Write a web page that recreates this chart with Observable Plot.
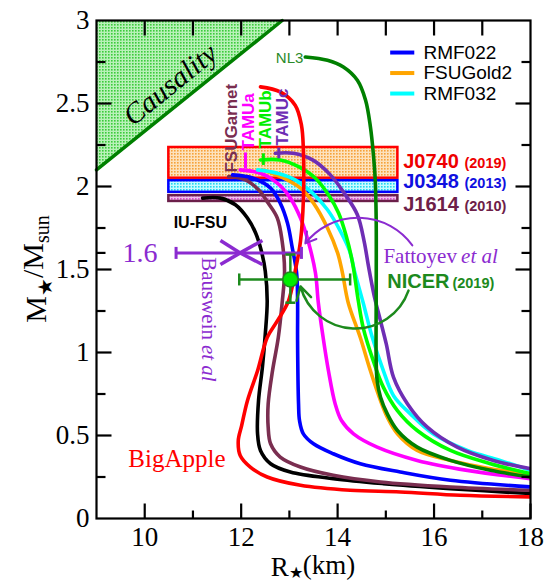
<!DOCTYPE html>
<html><head><meta charset="utf-8">
<script src="https://cdn.jsdelivr.net/npm/d3@7"></script>
<script src="https://cdn.jsdelivr.net/npm/@observablehq/plot@0.6"></script>
<style>body{margin:0;background:#fff}</style>
</head><body><div id="chart"></div>
<script>
// ---- tick values ----
const xMajorTicks = [10, 12, 14, 16, 18];
const xMinorTicks = [11, 13, 15, 17];
const xTopTicks = [10, 11, 12, 13, 14, 15, 16, 17];
const yMajorTicks = [0.5, 1, 1.5, 2, 2.5];
const yMinorTicks = [0.25, 0.75, 1.25, 1.6, 1.75, 2.25, 2.75];
const xTickLabels = [10, 12, 14, 16, 18];
const yTickLabels = [0, 0.5, 1, 1.5, 2, 2.5, 3];

// ---- mass-radius curves [R (km), M/Msun] ----
const iuFsu = [[11.20,1.93],[11.57,1.93],[11.88,1.89],[12.13,1.81],[12.30,1.72],[12.42,1.61],[12.50,1.49],[12.54,1.31],[12.50,1.11],[12.44,0.91],[12.36,0.71],[12.34,0.51],[12.40,0.41],[12.61,0.33],[13.02,0.28],[13.91,0.24],[14.95,0.21],[16.34,0.18],[18.0,0.15]];
const fsuGarnet = [[11.74,2.06],[12.09,2.04],[12.36,1.98],[12.56,1.90],[12.75,1.81],[12.85,1.67],[12.90,1.49],[12.85,1.30],[12.77,1.09],[12.65,0.89],[12.56,0.69],[12.56,0.55],[12.61,0.45],[12.81,0.37],[13.23,0.31],[13.91,0.26],[14.89,0.22],[16.34,0.19],[18.0,0.17]];
const rmf022 = [[11.82,2.07],[12.25,2.05],[12.61,1.99],[12.81,1.90],[12.96,1.78],[13.06,1.63],[13.15,1.48],[13.17,1.31],[13.17,1.07],[13.19,0.69],[13.21,0.59],[13.29,0.51],[13.50,0.45],[13.91,0.39],[14.47,0.33],[15.30,0.28],[16.34,0.23],[18.0,0.19]];
const tamuA = [[11.98,2.10],[12.40,2.08],[12.75,2.02],[13.02,1.93],[13.23,1.81],[13.39,1.67],[13.54,1.48],[13.60,1.30],[13.70,1.09],[13.81,0.89],[13.95,0.69],[14.08,0.59],[14.33,0.51],[14.82,0.43],[15.65,0.35],[16.69,0.29],[18.0,0.24]];
const fsuGold2 = [[12.44,2.10],[12.88,2.05],[13.23,1.99],[13.50,1.90],[13.79,1.75],[14.00,1.60],[14.10,1.48],[14.22,1.30],[14.47,1.09],[14.68,0.89],[14.89,0.71],[15.03,0.61],[15.24,0.51],[15.65,0.41],[16.34,0.35],[17.17,0.30],[18.0,0.27]];
const rmf032 = [[12.34,2.10],[12.75,2.08],[13.12,2.04],[13.48,1.96],[13.79,1.86],[14.06,1.73],[14.25,1.61],[14.35,1.49],[14.53,1.30],[14.72,1.09],[14.95,0.89],[15.16,0.74],[15.51,0.63],[15.98,0.51],[16.69,0.41],[17.37,0.35],[18.0,0.29]];
const tamuB = [[12.40,2.16],[12.81,2.16],[13.19,2.12],[13.54,2.05],[13.81,1.95],[14.02,1.84],[14.18,1.70],[14.31,1.54],[14.43,1.31],[14.53,1.15],[14.74,0.95],[14.95,0.79],[15.24,0.65],[15.65,0.53],[16.34,0.41],[17.17,0.33],[18.0,0.27]];
const tamuC = [[12.71,2.20],[13.08,2.20],[13.48,2.16],[13.85,2.07],[14.16,1.95],[14.41,1.83],[14.55,1.67],[14.64,1.52],[14.76,1.34],[14.89,1.19],[15.01,1.05],[15.16,0.85],[15.45,0.69],[15.86,0.55],[16.48,0.43],[17.23,0.35],[18.0,0.30]];
const nl3 = [[13.33,2.78],[13.79,2.76],[14.12,2.72],[14.41,2.64],[14.58,2.52],[14.68,2.36],[14.74,2.20],[14.78,2.04],[14.80,1.80],[14.80,1.31],[14.80,0.95],[14.82,0.83],[14.89,0.73],[15.03,0.63],[15.24,0.53],[15.65,0.43],[16.34,0.35],[17.17,0.29],[18.0,0.25]];
const bigApple = [[12.40,2.60],[12.81,2.57],[13.12,2.49],[13.25,2.37],[13.29,2.22],[13.29,1.92],[13.23,1.67],[13.12,1.49],[12.98,1.31],[12.75,1.19],[12.54,1.09],[12.34,0.89],[12.13,0.71],[12.01,0.56],[11.94,0.47],[11.98,0.38],[12.19,0.31],[12.54,0.25],[13.23,0.20],[14.26,0.17],[15.30,0.16],[16.54,0.14],[18.0,0.13]];

const curveNames = ["IU-FSU","FSUGarnet","RMF022","TAMUa","FSUGold2","RMF032","TAMUb","TAMUc","NL3","BigApple"];
const curveColors = ["#000000","#7a2e50","#0000ff","#ff00ff","#ffa500","#00ffff","#00ff00","#6e2eb4","#008000","#ff0000"];
const curvePoints = [iuFsu, fsuGarnet, rmf022, tamuA, fsuGold2, rmf032, tamuB, tamuC, nl3, bigApple];

// ---- pulsar mass bands ----
const bandNames = ["J0740","J0348","J1614"];
const bandYears = ["(2019)","(2013)","(2010)"];
const bandLow = [2.05, 1.965, 1.91];
const bandHigh = [2.235, 2.035, 1.945];
const bandRmin = 10.5, bandRmax = 15.25;

// ---- causality limit line ----
const causalR = [9, 12.85];
const causalM = [2.10, 3.0];

// ---- constraints ----
const bauswein = {R: 11.98, Rlo: 10.65, Rhi: 13.25, M: 1.6};
const nicer = {R: 13.02, Rlo: 11.96, Rhi: 14.26, M: 1.44, Mlo: 1.30, Mhi: 1.59};

// ---- legend ----
const legendNames = ["RMF022","FSUGold2","RMF032"];
const legendColors = ["#0000ff","#ffa500","#00ffff"];

// build tables
const curves = curveNames.map((name, i) => ({name, color: curveColors[i], pts: curvePoints[i].map(([R, M]) => ({R, M}))}));
const bands = bandNames.map((name, i) => ({name, year: bandYears[i], lo: bandLow[i], hi: bandHigh[i]}));
const causal = causalR.map((R, i) => ({R, M: causalM[i]}));
const legend = legendNames.map((name, i) => ({name, color: legendColors[i], M: 2.807 - i * 0.1235}));

const PURPLE = "#8b2bd0";
const NGREEN = "#1d8a1d";
const SANS = "Liberation Sans";

const vbar = {draw(ctx, size) { const r = Math.sqrt(size / Math.PI); ctx.moveTo(0, -r); ctx.lineTo(0, r); }};
const hbar = {draw(ctx, size) { const r = Math.sqrt(size / Math.PI); ctx.moveTo(-r, 0); ctx.lineTo(r, 0); }};

const rotLabels = [
  {t: "FSUGarnet", R: 11.92, M: 2.084, c: "#7a2e50"},
  {t: "TAMUa", R: 12.26, M: 2.217, c: "#ff00ff"},
  {t: "TAMUb", R: 12.62, M: 2.229, c: "#00ee00"},
  {t: "TAMUc", R: 12.97, M: 2.245, c: "#6e2eb4"}
];
const labelBars = [
  {R: 12.09, lo: 2.108, hi: 2.205, c: "#ff00ff"},
  {R: 12.46, lo: 2.13, hi: 2.20, c: "#00ee00"},
  {R: 12.78, lo: 2.17, hi: 2.235, c: "#6e2eb4"}
];

const W = 553, H = 582, ML = 96, MR = 23, MT = 20, MB = 64;
const X0 = 9, X1 = 18, Y0 = 0, Y1 = 3;
const ux = (X1 - X0) / (W - ML - MR), uy = (Y1 - Y0) / (H - MT - MB);
const TK = {stroke: "#000", strokeWidth: 2.2};

const plot = Plot.plot({
  width: W, height: H,
  marginLeft: ML, marginRight: MR, marginTop: MT, marginBottom: MB,
  x: {domain: [X0, X1], axis: null},
  y: {domain: [Y0, Y1], axis: null},
  color: {type: "identity"},
  style: {fontFamily: "Liberation Serif", background: "white", overflow: "visible"},
  marks: [
    // causality
    Plot.areaY(causal, {x: "R", y1: "M", y2: 3, fill: "#86e586"}),
    Plot.line(causal, {x: "R", y: "M", stroke: "#008000", strokeWidth: 3.5}),
    Plot.text(["Causality"], {x: 10.53, y: 2.614, rotate: -39, fontSize: 29, fontStyle: "italic", fill: "black"}),
    // bands
    Plot.rectY(bands, {x1: bandRmin, x2: bandRmax, y1: "lo", y2: "hi",
      fill: d => ({J0740: "#fccb8d", J0348: "#86f2ff", J1614: "#e48ade"})[d.name],
      stroke: d => ({J0740: "#ff0000", J0348: "#0000ff", J1614: "#6b1f4a"})[d.name], strokeWidth: 2.5}),
    Plot.text(bands, {x: 15.36, y: d => ({J0740: 2.114, J0348: 1.988, J1614: 1.855})[d.name], text: "name", textAnchor: "start", lineAnchor: "bottom", fontFamily: SANS, fontWeight: "bold", fontSize: 20,
      fill: d => ({J0740: "#ee0000", J0348: "#1010e0", J1614: "#6e2048"})[d.name]}),
    Plot.text(bands, {x: 16.63, y: d => ({J0740: 2.114, J0348: 1.988, J1614: 1.855})[d.name], text: "year", textAnchor: "start", lineAnchor: "bottom", fontFamily: SANS, fontWeight: "bold", fontSize: 14.5,
      fill: d => ({J0740: "#ee0000", J0348: "#1010e0", J1614: "#6e2048"})[d.name]}),
    // curves
    ...curves.map(c => Plot.line(c.pts, {x: "R", y: "M", stroke: c.color, strokeWidth: 3.6, curve: "catmull-rom", clip: true})),
    // rotated curve labels
    Plot.text(rotLabels, {x: "R", y: "M", text: "t", fill: "c", rotate: -90, textAnchor: "start", lineAnchor: "bottom", fontFamily: SANS, fontWeight: "bold", fontSize: 17}),
    Plot.link(labelBars, {x1: "R", x2: "R", y1: "lo", y2: "hi", stroke: "c", strokeWidth: 3}),
    Plot.text(["NL3"], {x: 13.29, y: 2.771, textAnchor: "end", fontFamily: SANS, fontSize: 15, fill: "#2a8a2a"}),
    Plot.text(["IU-FSU"], {x: 10.60, y: 1.747, textAnchor: "start", lineAnchor: "bottom", fontFamily: SANS, fontWeight: "bold", fontSize: 16, fill: "black"}),
    Plot.text(["BigApple"], {x: 9.66, y: 0.313, textAnchor: "start", lineAnchor: "bottom", fontSize: 25, fill: "#ff0000"}),
    // Bauswein constraint
    Plot.link([bauswein], {x1: "Rlo", x2: "Rhi", y1: "M", y2: "M", stroke: PURPLE, strokeWidth: 3}),
    Plot.dot([bauswein.Rlo, bauswein.Rhi], {x: d => d, y: bauswein.M, symbol: vbar, r: 6, stroke: PURPLE, strokeWidth: 3}),
    Plot.link([[11.57,1.675],[11.57,1.53],[12.44,1.675],[12.44,1.53]], {x1: bauswein.R, y1: bauswein.M, x2: d => d[0], y2: d => d[1], stroke: PURPLE, strokeWidth: 3.5}),
    Plot.text(["1.6"], {x: 9.90, y: 1.6, fontSize: 28, fill: PURPLE}),
    Plot.text(["Bauswein"], {x: 11.32, y: 1.325, rotate: 90, fontSize: 21, fill: PURPLE}),
    Plot.text(["et al"], {x: 11.32, y: 0.935, rotate: 90, fontSize: 21, fontStyle: "italic", fill: PURPLE}),
    // Fattoyev
    Plot.arrow([0], {x1: 15.55, y1: 1.645, x2: 13.33, y2: 1.657, bend: -53, stroke: PURPLE, strokeWidth: 2, headLength: 9}),
    Plot.text(["Fattoyev"], {x: 14.95, y: 1.542, textAnchor: "start", lineAnchor: "bottom", fontSize: 21, fill: PURPLE}),
    Plot.text(["et al"], {x: 16.56, y: 1.542, textAnchor: "start", lineAnchor: "bottom", fontSize: 21, fontStyle: "italic", fill: PURPLE}),
    // NICER
    Plot.arrow([0], {x1: 15.47, y1: 1.373, x2: 13.23, y2: 1.398, bend: 73, stroke: NGREEN, strokeWidth: 2.5, headLength: 9}),
    Plot.link([nicer], {x1: "Rlo", x2: "Rhi", y1: "M", y2: "M", stroke: NGREEN, strokeWidth: 2.5}),
    Plot.link([nicer], {x1: "R", x2: "R", y1: "Mlo", y2: "Mhi", stroke: NGREEN, strokeWidth: 2.5}),
    Plot.dot([nicer.Rlo, nicer.Rhi], {x: d => d, y: nicer.M, symbol: vbar, r: 6, stroke: NGREEN, strokeWidth: 2.5}),
    Plot.dot([nicer.Mlo, nicer.Mhi], {x: nicer.R, y: d => d, symbol: hbar, r: 5, stroke: NGREEN, strokeWidth: 2.5}),
    Plot.dot([nicer], {x: "R", y: "M", r: 7.5, fill: "#00ee00", stroke: NGREEN, strokeWidth: 1.5}),
    Plot.text(["NICER"], {x: 15.03, y: 1.386, textAnchor: "start", lineAnchor: "bottom", fontFamily: SANS, fontWeight: "bold", fontSize: 20, fill: NGREEN}),
    Plot.text(["(2019)"], {x: 16.38, y: 1.386, textAnchor: "start", lineAnchor: "bottom", fontFamily: SANS, fontWeight: "bold", fontSize: 14.5, fill: NGREEN}),
    // legend
    Plot.link(legend, {x1: 15.09, x2: 15.59, y1: "M", y2: "M", stroke: "color", strokeWidth: 4}),
    Plot.text(legend, {x: 15.78, y: "M", text: "name", textAnchor: "start", fontFamily: SANS, fontSize: 19, fill: "black"}),
    // inward ticks (rules spanning a fixed pixel length)
    Plot.link(xMajorTicks, {x1: d => d, x2: d => d, y1: Y0, y2: Y0 + 15 * uy, ...TK}),
    Plot.link(xMinorTicks, {x1: d => d, x2: d => d, y1: Y0, y2: Y0 + 8 * uy, ...TK}),
    Plot.link(xTopTicks, {x1: d => d, x2: d => d, y1: Y1, y2: Y1 - 15 * uy, ...TK}),
    Plot.link(yMajorTicks, {y1: d => d, y2: d => d, x1: X0, x2: X0 + 15 * ux, ...TK}),
    Plot.link(yMinorTicks, {y1: d => d, y2: d => d, x1: X0, x2: X0 + 9 * ux, ...TK}),
    Plot.link(yMajorTicks, {y1: d => d, y2: d => d, x1: X1, x2: X1 - 15 * ux, ...TK}),
    Plot.link(yMinorTicks, {y1: d => d, y2: d => d, x1: X1, x2: X1 - 9 * ux, ...TK}),
    // tick labels
    Plot.text(xTickLabels, {x: d => d, y: Y0, dy: 8, lineAnchor: "top", text: d => String(d), fontSize: 27, fill: "black"}),
    Plot.text(yTickLabels, {x: X0, y: d => d, dx: -7, textAnchor: "end", text: d => String(d), fontSize: 27, fill: "black"}),
    Plot.frame({stroke: "black", strokeWidth: 2.2})
  ]
});

document.getElementById("chart").appendChild(plot);

const svg = d3.select(plot);
const sx = plot.scale("x"), sy = plot.scale("y");
const xl = sx.apply(X0), xrt = sx.apply(X1), yb = sy.apply(Y0), ytp = sy.apply(Y1);

// dotted textures like the original fills
const defs = svg.insert("defs", ":first-child");
function dots(id, bg, fg) {
  const p = defs.append("pattern").attr("id", id).attr("width", 3).attr("height", 3).attr("patternUnits", "userSpaceOnUse");
  p.append("rect").attr("width", 3).attr("height", 3).attr("fill", bg);
  p.append("rect").attr("width", 1.6).attr("height", 1.6).attr("fill", fg);
}
dots("pJ0740", "#fde2bd", "#f6a23a");
dots("pJ0348", "#c9fbff", "#22d8f0");
dots("pJ1614", "#f3c2ef", "#d84ccf");
dots("pCaus", "#b9f1b9", "#3ccb3c");
svg.selectAll('g[aria-label="rect"] rect').each(function(d, i) { d3.select(this).attr("fill", `url(#p${bandNames[i]})`); });
svg.select('g[aria-label="area"] path').attr("fill", "url(#pCaus)");

// axis titles with subscripts
const xt = svg.append("text").attr("x", (xl + xrt) / 2).attr("y", 576)
  .attr("text-anchor", "middle").attr("font-family", "Liberation Serif").attr("font-size", 27).attr("fill", "black");
xt.append("tspan").text("R");
xt.append("tspan").attr("dy", "0.15em").attr("font-size", 16).text("★");
xt.append("tspan").attr("dy", "-0.15em").text("(km)");
const yt = svg.append("text").attr("transform", `translate(46,${(yb + ytp) / 2}) rotate(-90)`)
  .attr("text-anchor", "middle").attr("font-family", "Liberation Serif").attr("font-size", 30).attr("fill", "black");
yt.append("tspan").text("M");
yt.append("tspan").attr("dy", "0.3em").attr("font-size", 20).text("★");
yt.append("tspan").attr("dy", "-0.3em").text("/M");
yt.append("tspan").attr("dy", "0.3em").attr("font-size", 20).text("sun");
</script>
</body></html>
